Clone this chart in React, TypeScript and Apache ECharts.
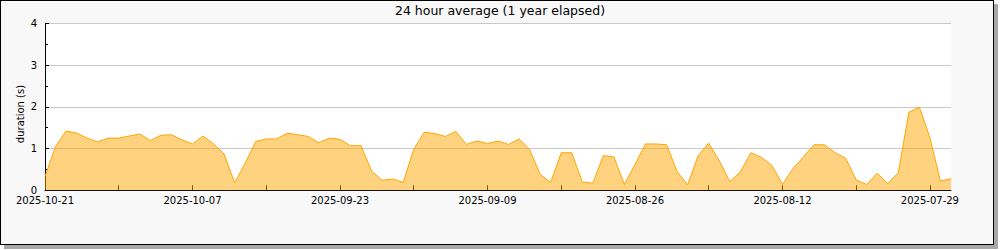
import React, { useEffect, useRef } from "react";
import * as echarts from "echarts";

const TITLE = "24 hour average (1 year elapsed)";
const Y_NAME = "duration (s)";
const START_DATE = "2025-10-21";
const DAY_COUNT = 87;
const TICK_EVERY = 7;
const LABEL_EVERY = 14;

// daily values, newest (2025-10-21) first, plotted left to right
const durations: number[] = [
  0.33, 1.05, 1.42, 1.37, 1.25, 1.16, 1.25, 1.25, 1.3, 1.35,
  1.19, 1.32, 1.33, 1.21, 1.11, 1.3, 1.11, 0.87, 0.18, 0.65,
  1.17, 1.23, 1.23, 1.37, 1.33, 1.29, 1.14, 1.25, 1.22, 1.07,
  1.07, 0.46, 0.24, 0.27, 0.19, 0.98, 1.39, 1.36, 1.29, 1.41,
  1.1, 1.18, 1.12, 1.18, 1.1, 1.23, 0.98, 0.38, 0.19, 0.9,
  0.9, 0.2, 0.17, 0.83, 0.8, 0.14, 0.62, 1.11, 1.11, 1.09,
  0.45, 0.13, 0.83, 1.13, 0.71, 0.21, 0.44, 0.9, 0.79, 0.6,
  0.14, 0.52, 0.8, 1.09, 1.09, 0.9, 0.77, 0.25, 0.14, 0.41,
  0.16, 0.42, 1.87, 1.99, 1.26, 0.22, 0.28,
];

function buildDates(start: string, n: number): string[] {
  const base = Date.parse(start + "T00:00:00Z");
  const out: string[] = [];
  for (let i = 0; i < n; i++) {
    out.push(new Date(base - i * 86400000).toISOString().slice(0, 10));
  }
  return out;
}

const dates = buildDates(START_DATE, DAY_COUNT);

export default function App() {
  const ref = useRef<HTMLDivElement>(null);
  useEffect(() => {
    document.body.style.margin = "0";
    if (!ref.current) return;
    const chart = echarts.init(ref.current, undefined, { renderer: "svg" });
    const font = "DejaVu Sans";
    chart.setOption({
      animation: false,
      textStyle: { fontFamily: font },
      title: {
        text: TITLE,
        left: "center",
        top: 4,
        padding: 0,
        textStyle: { fontFamily: font, fontSize: 12.5, fontWeight: "normal", color: "#000" },
      },
      grid: {
        left: 45,
        right: 49,
        top: 23.3,
        bottom: 59.7,
        show: true,
        backgroundColor: "#ffffff",
        borderWidth: 0,
      },
      graphic: [
        {
          type: "text",
          x: 20,
          y: 114,
          rotation: Math.PI / 2,
          style: {
            text: Y_NAME,
            fontFamily: font,
            fontSize: 10,
            fill: "#000",
            align: "center",
            verticalAlign: "middle",
          },
        },
      ],
      xAxis: {
        type: "category",
        data: dates,
        boundaryGap: false,
        axisLine: { lineStyle: { color: "#000", width: 1 } },
        axisTick: {
          inside: true,
          length: 5,
          interval: TICK_EVERY - 1,
          lineStyle: { color: "#000" },
        },
        axisLabel: {
          interval: LABEL_EVERY - 1,
          margin: 5,
          fontSize: 10,
          lineHeight: 10,
          color: "#000",
          fontFamily: font,
        },
        splitLine: { show: false },
      },
      yAxis: {
        type: "value",
        min: 0,
        max: 4,
        interval: 1,
        axisLine: { show: true, lineStyle: { color: "#000", width: 1 } },
        axisTick: { show: true, inside: true, length: 4, lineStyle: { color: "#000" } },
        minorTick: { show: true, splitNumber: 2, length: 3, lineStyle: { color: "#000" } },
        axisLabel: { margin: 8, fontSize: 10, lineHeight: 10, color: "#000", fontFamily: font },
        splitLine: { show: true, lineStyle: { color: "#c8c8c8", width: 1 } },
      },
      series: [
        {
          type: "line",
          data: durations,
          symbol: "none",
          lineStyle: { color: "#ffa500", width: 1 },
          areaStyle: { color: "#ffa500", opacity: 0.5 },
          itemStyle: { color: "#ffa500" },
        },
      ],
    });
    return () => chart.dispose();
  }, []);
  return (
    <div style={{ position: "relative", width: 1000, height: 250 }}>
      <div
        style={{
          position: "absolute",
          left: 0,
          top: 0,
          width: 994,
          height: 245,
          boxSizing: "border-box",
          border: "1px solid #000",
          background: "#f8f8f8",
          boxShadow: "4px 4px 0 #a8a8a8",
        }}
      />
      <div ref={ref} style={{ position: "absolute", left: 0, top: 0, width: 1000, height: 250 }} />
    </div>
  );
}
